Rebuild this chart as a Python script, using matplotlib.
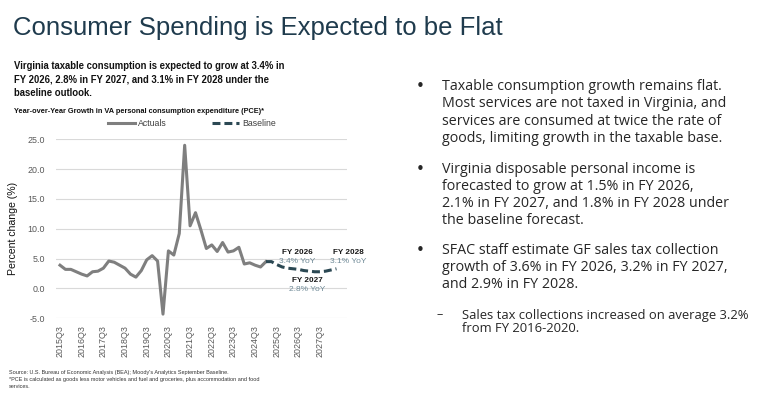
import matplotlib
matplotlib.use('Agg')
import matplotlib.pyplot as plt

# ---- data ----
actual_values = [3.9, 3.2, 3.2, 2.8, 2.4, 2.1, 2.8, 2.9, 3.4, 4.6,
                 4.4, 3.9, 3.4, 2.4, 1.9, 3.0, 4.8, 5.5, 4.6, -4.3,
                 6.3, 5.6, 9.2, 24.0, 10.5, 12.7, 9.8, 6.7, 7.3, 6.2,
                 7.7, 6.1, 6.3, 6.9, 4.1, 4.3, 3.9, 3.6, 4.5]
baseline_values = [4.5, 4.5, 4.0, 3.6, 3.4, 3.3, 3.2, 3.0, 2.9, 2.8,
                   2.8, 2.9, 3.1, 3.3]
tick_labels = ['2015Q3', '2016Q3', '2017Q3', '2018Q3', '2019Q3', '2020Q3',
               '2021Q3', '2022Q3', '2023Q3', '2024Q3', '2025Q3', '2026Q3',
               '2027Q3']
fy_names = ['FY 2026', 'FY 2027', 'FY 2028']
fy_growth = ['3.4% YoY', '2.8% YoY', '3.1% YoY']

W, H = 780, 395
SANS = 'Liberation Sans'


def fx(x):
    return x / W


def fy(y):
    return 1 - y / H


fig = plt.figure(figsize=(W / 100, H / 100), dpi=100)
fig.patch.set_facecolor('white')

# title
fig.text(fx(13), fy(35), 'Consumer Spending is Expected to be Flat',
         fontsize=18.5, color='#1f3b4d', family=SANS, va='baseline')

# chart headline
headline = ['Virginia taxable consumption is expected to grow at 3.4% in',
            'FY 2026, 2.8% in FY 2027, and 3.1% in FY 2028 under the',
            'baseline outlook.']
for i, line in enumerate(headline):
    fig.text(fx(14), fy(66 + 13.5 * i), line, fontsize=6.85, fontweight='bold',
             family=SANS, color='#111111', va='center')
fig.text(fx(14), fy(111.5),
         'Year-over-Year Growth in VA personal consumption expenditure (PCE)*',
         fontsize=5.3, fontweight='bold', family=SANS, color='#111111',
         va='center')

# chart
ax = fig.add_axes([fx(56), fy(318.3), fx(347) - fx(56), fy(139.3) - fy(318.3)])
x_act = list(range(len(actual_values)))
start = len(actual_values) - 1
x_base = list(range(start, start + len(baseline_values)))

ax.plot(x_act, actual_values, color='#7f7f7f', lw=2.2, label='Actuals')
ax.plot(x_base, baseline_values, color='#2b4853', lw=2.2, dashes=(2.6, 1.3),
        label='Baseline')

ax.set_ylim(-5, 25)
ax.set_xlim(-0.74, 52.95)
ax.set_yticks([-5, 0, 5, 10, 15, 20, 25])
ax.set_yticklabels(['%.1f' % v for v in [-5, 0, 5, 10, 15, 20, 25]])
ax.set_xticks(list(range(0, 4 * len(tick_labels), 4)))
ax.set_xticklabels(tick_labels, rotation=90)
for lab in ax.get_xticklabels() + ax.get_yticklabels():
    lab.set_family(SANS)
    lab.set_fontsize(6.4)
    lab.set_color('#595959')
ax.tick_params(axis='y', length=0, pad=8)
ax.tick_params(axis='x', length=0, pad=5)
ax.grid(axis='y', color='#d9d9d9', lw=0.8)
ax.set_axisbelow(True)
for s in ax.spines.values():
    s.set_visible(False)
ax.set_ylabel('Percent change (%)', family=SANS, fontsize=7.6, color='#111111',
              labelpad=7)

# forecast annotations
ann_pos = [(43.8, 6.1, 4.5), (45.6, 1.3, -0.25), (53.2, 6.1, 4.5)]
for (xx, y1, y2), name, g in zip(ann_pos, fy_names, fy_growth):
    ax.text(xx, y1, name, ha='center', va='center', fontsize=5.9,
            fontweight='bold', family=SANS, color='#1a1a1a', clip_on=False)
    ax.text(xx, y2, g, ha='center', va='center', fontsize=6.0,
            family=SANS, color='#6f8a97', clip_on=False)

fig.legend(loc='center', bbox_to_anchor=(fx(192), fy(123.5)), ncol=2, frameon=False,
           prop={'family': SANS, 'size': 6.3}, handlelength=3.0,
           columnspacing=5.2, handletextpad=0.4, labelcolor='#404040')

# source notes
source_lines = ["Source: U.S. Bureau of Economic Analysis (BEA); Moody's Analytics September Baseline.",
                '*PCE is calculated as goods less motor vehicles and fuel and groceries, plus accommodation and food',
                'services.']
for i, line in enumerate(source_lines):
    fig.text(fx(9), fy(372.5 + 7.2 * i), line, fontsize=4.0, family=SANS,
             color='#333333', va='center')

# right-hand bullets
bullets = [
    (86.7, ['Taxable consumption growth remains flat.',
            'Most services are not taxed in Virginia, and',
            'services are consumed at twice the rate of',
            'goods, limiting growth in the taxable base.']),
    (169.3, ['Virginia disposable personal income is',
             'forecasted to grow at 1.5% in FY 2026,',
             '2.1% in FY 2027, and 1.8% in FY 2028 under',
             'the baseline forecast.']),
    (250.0, ['SFAC staff estimate GF sales tax collection',
             'growth of 3.6% in FY 2026, 3.2% in FY 2027,',
             'and 2.9% in FY 2028.']),
]
for ytop, lines in bullets:
    fig.text(fx(420.5), fy(ytop), '\u2022', fontsize=11, family='DejaVu Sans',
             color='#262626', va='center', ha='center')
    for i, line in enumerate(lines):
        fig.text(fx(442.5), fy(ytop + 17.2 * i), line, fontsize=10.25,
                 family='Open Sans', color='#262626', va='center')

fig.text(fx(440), fy(315), '\u2013', fontsize=9, family='Open Sans',
         color='#262626', va='center', ha='center')
sub_lines = ['Sales tax collections increased on average 3.2%', 'from FY 2016-2020.']
for i, line in enumerate(sub_lines):
    fig.text(fx(462.5), fy(315 + 13.5 * i), line, fontsize=9.4,
             family='Open Sans', color='#262626', va='center')

fig.savefig('out.png', dpi=100, facecolor='white')
